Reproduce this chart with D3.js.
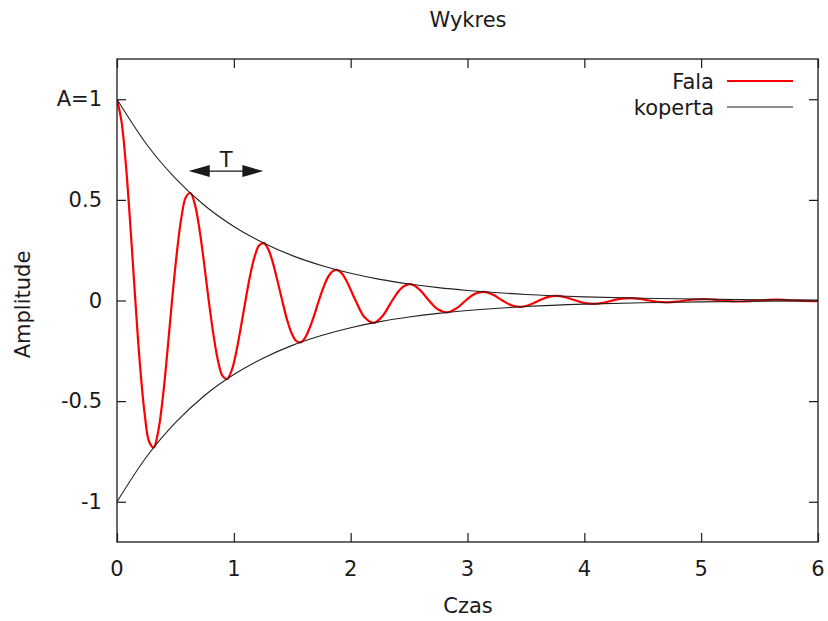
<!DOCTYPE html>
<html>
<head>
<meta charset="utf-8">
<script src="https://cdn.jsdelivr.net/npm/d3@7"></script>
<style>
  html, body { margin: 0; padding: 0; background: #fff; }
  svg { display: block; font-family: "DejaVu Sans", sans-serif; }
</style>
</head>
<body>
<svg id="chart" width="828" height="621"></svg>
<script>
// ---- data ----
const title = "Wykres";
const xLabel = "Czas";
const yLabel = "Amplitude";
const xTicks = [0, 1, 2, 3, 4, 5, 6];
const yTicks = [-1, -0.5, 0, 0.5, 1];
const yTickLabels = ["-1", "-0.5", "0", "0.5", "A=1"];
const seriesNames = ["Fala", "koperta"];

// wave "Fala": time and amplitude samples
const waveT = [0.000,0.039,0.079,0.118,0.157,0.196,0.236,0.275,0.314,0.353,
  0.393,0.432,0.471,0.511,0.550,0.589,0.628,0.668,0.707,0.746,
  0.785,0.825,0.864,0.903,0.942,0.982,1.021,1.060,1.100,1.139,
  1.178,1.217,1.257,1.296,1.335,1.374,1.414,1.453,1.492,1.532,
  1.571,1.610,1.649,1.689,1.728,1.767,1.806,1.846,1.885,1.924,
  1.963,2.042,2.121,2.199,2.278,
  2.356,2.435,2.513,2.592,2.670,2.749,2.827,2.906,2.985,3.063,
  3.142,3.220,3.299,3.377,3.456,3.534,3.613,3.691,3.770,3.848,
  3.927,4.006,4.084,4.163,4.241,4.320,4.398,4.477,4.555,4.634,
  4.712,4.791,4.869,4.948,5.027,5.105,5.184,5.262,5.341,5.419,
  5.498,5.576,5.655,5.733,5.812,5.890,5.969,6.000];
const waveY = [1.000,0.888,0.654,0.340,0.000,-0.315,-0.559,-0.702,-0.730,-0.649,
  -0.478,-0.249,0.000,0.230,0.408,0.513,0.534,0.474,0.349,0.182,
  0.000,-0.168,-0.298,-0.375,-0.390,-0.346,-0.255,-0.133,0.000,0.123,
  0.218,0.274,0.285,0.253,0.186,0.097,0.000,-0.090,-0.159,-0.200,
  -0.208,-0.185,-0.136,-0.071,0.000,0.065,0.116,0.146,0.152,0.135,
  0.099,0.000,-0.085,-0.111,-0.073,
  0.000,0.062,0.081,0.053,0.000,-0.045,-0.059,-0.039,0.000,0.033,
  0.043,0.028,0.000,-0.024,-0.032,-0.021,0.000,0.018,0.023,0.015,
  0.000,-0.013,-0.017,-0.011,0.000,0.009,0.012,0.008,0.000,-0.007,
  -0.009,-0.006,0.000,0.005,0.007,0.004,0.000,-0.004,-0.005,-0.003,
  0.000,0.003,0.004,0.002,0.000,-0.002,-0.003,-0.002];

// envelope "koperta": time and upper envelope values (lower is mirrored)
const envT = [0, 0.25, 0.5, 0.75, 1, 1.25, 1.5, 1.75, 2, 2.25, 2.5, 2.75, 3, 3.5, 4, 4.5, 5, 5.5, 6];
const envY = [1, 0.779, 0.607, 0.472, 0.368, 0.287, 0.223, 0.174, 0.135, 0.105, 0.082, 0.064, 0.050, 0.030, 0.018, 0.011, 0.007, 0.004, 0.0025];

// period annotation "T": arrow between two successive peaks
const periodStart = 0.614, periodEnd = 1.253, periodLevel = 0.643;
const periodLabel = "T";

// ---- drawing ----
const svg = d3.select("#chart");
const W = 828, H = 621;
const margin = { left: 117, right: 10, top: 59, bottom: 79 };
const x = d3.scaleLinear().domain([0, 6]).range([margin.left, W - margin.right]);
const y = d3.scaleLinear().domain([-1.2, 1.2]).range([H - margin.bottom, margin.top]);
const FS = 21;
const ink = "#1a1a1a";

// clip
svg.append("clipPath").attr("id", "clip").append("rect")
  .attr("x", x(0)).attr("y", y(1.2)).attr("width", x(6) - x(0)).attr("height", y(-1.2) - y(1.2));

// ticks (inward, mirrored) via axes
const tickLen = 9;
const gxB = svg.append("g").attr("transform", `translate(0,${y(-1.2)})`)
  .call(d3.axisBottom(x).tickValues(xTicks).tickSize(-tickLen).tickPadding(0).tickFormat(""));
const gxT = svg.append("g").attr("transform", `translate(0,${y(1.2)})`)
  .call(d3.axisTop(x).tickValues(xTicks).tickSize(-tickLen).tickFormat(""));
const gyL = svg.append("g").attr("transform", `translate(${x(0)},0)`)
  .call(d3.axisLeft(y).tickValues(yTicks).tickSize(-tickLen).tickFormat(""));
const gyR = svg.append("g").attr("transform", `translate(${x(6)},0)`)
  .call(d3.axisRight(y).tickValues(yTicks).tickSize(-tickLen).tickFormat(""));
[gxB, gxT, gyL, gyR].forEach(g => {
  g.select(".domain").remove();
  g.selectAll(".tick line").attr("stroke", ink).attr("stroke-width", 1.2);
});

// tick labels
svg.append("g").selectAll("text").data(xTicks).join("text")
  .attr("x", d => x(d)).attr("y", y(-1.2) + 27)
  .attr("text-anchor", "middle").attr("dominant-baseline", "central")
  .attr("font-size", FS).attr("fill", ink).text(d => d);
svg.append("g").selectAll("text").data(yTicks).join("text")
  .attr("x", x(0) - 15).attr("y", d => y(d))
  .attr("text-anchor", "end").attr("dominant-baseline", "central")
  .attr("font-size", FS).attr("fill", ink).text((d, i) => yTickLabels[i]);

// curves
const plot = svg.append("g").attr("clip-path", "url(#clip)");
const wave = waveT.map((t, i) => [t, waveY[i]]);
const envUp = envT.map((t, i) => [t, envY[i]]);
const envDn = envT.map((t, i) => [t, -envY[i]]);
const lineWave = d3.line().x(d => x(d[0])).y(d => y(d[1])).curve(d3.curveCatmullRom.alpha(0.5));
const lineEnv = d3.line().x(d => x(d[0])).y(d => y(d[1])).curve(d3.curveMonotoneX);

plot.append("path").datum(wave).attr("d", lineWave)
  .attr("fill", "none").attr("stroke", "#ff0000").attr("stroke-width", 2.2).attr("stroke-linejoin", "round");
plot.append("path").datum(envUp).attr("d", lineEnv)
  .attr("fill", "none").attr("stroke", "#222").attr("stroke-width", 1.1);
plot.append("path").datum(envDn).attr("d", lineEnv)
  .attr("fill", "none").attr("stroke", "#222").attr("stroke-width", 1.1);

// frame
svg.append("rect").attr("x", x(0)).attr("y", y(1.2))
  .attr("width", x(6) - x(0)).attr("height", y(-1.2) - y(1.2))
  .attr("fill", "none").attr("stroke", ink).attr("stroke-width", 1.3);

// period arrow
const ax1 = x(periodStart), ax2 = x(periodEnd), ay = y(periodLevel);
const headL = 21, headH = 6;
svg.append("line").attr("x1", ax1 + headL - 2).attr("x2", ax2 - headL + 2).attr("y1", ay).attr("y2", ay)
  .attr("stroke", ink).attr("stroke-width", 1.2);
svg.append("path").attr("d", `M${ax1},${ay}L${ax1 + headL},${ay - headH}L${ax1 + headL},${ay + headH}Z`).attr("fill", ink);
svg.append("path").attr("d", `M${ax2},${ay}L${ax2 - headL},${ay - headH}L${ax2 - headL},${ay + headH}Z`).attr("fill", ink);
svg.append("text").attr("x", (ax1 + ax2) / 2).attr("y", ay - 4)
  .attr("text-anchor", "middle").attr("font-size", FS).attr("fill", ink).text(periodLabel);

// legend
const legColors = ["#ff0000", "#222"];
const legWidths = [2.2, 1.1];
const leg = svg.append("g");
seriesNames.forEach((name, i) => {
  const ly = 81 + i * 26;
  leg.append("text").attr("x", 714).attr("y", ly + 1)
    .attr("text-anchor", "end").attr("dominant-baseline", "central")
    .attr("font-size", FS).attr("fill", ink).text(name);
  leg.append("line").attr("x1", 727).attr("x2", 793).attr("y1", ly).attr("y2", ly)
    .attr("stroke", legColors[i]).attr("stroke-width", legWidths[i]);
});

// titles
svg.append("text").attr("x", 468).attr("y", 20).attr("text-anchor", "middle")
  .attr("dominant-baseline", "central").attr("font-size", FS).attr("fill", ink).text(title);
svg.append("text").attr("x", 468).attr("y", 606).attr("text-anchor", "middle")
  .attr("dominant-baseline", "central").attr("font-size", FS).attr("fill", ink).text(xLabel);
svg.append("text").attr("transform", `translate(23,${y(0) + 4}) rotate(-90)`)
  .attr("text-anchor", "middle").attr("dominant-baseline", "central")
  .attr("font-size", FS).attr("fill", ink).text(yLabel);
</script>
</body>
</html>
